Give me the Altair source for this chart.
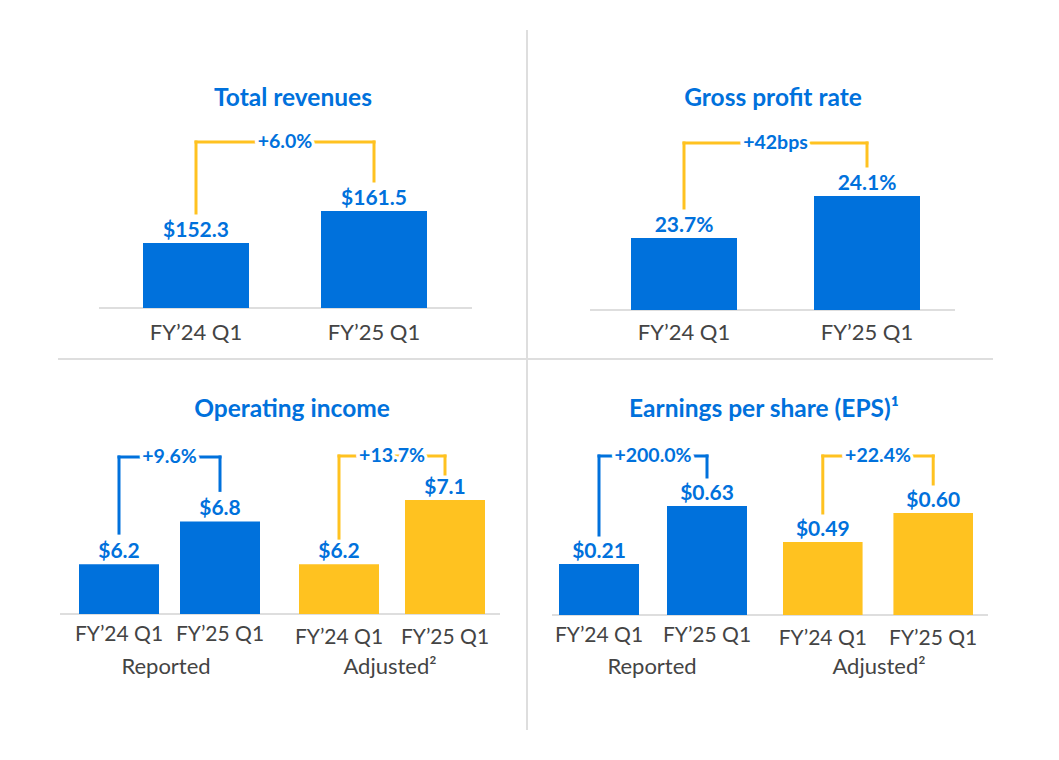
import altair as alt
import pandas as pd

# ---------------- data ----------------
periods = ["FY’24 Q1", "FY’25 Q1"]

revenue = [152.3, 161.5]
revenue_labels = ["$152.3", "$161.5"]

gross_rate = [23.7, 24.1]
gross_labels = ["23.7%", "24.1%"]

opinc_reported = [6.2, 6.8]
opinc_reported_labels = ["$6.2", "$6.8"]
opinc_adjusted = [6.2, 7.1]
opinc_adjusted_labels = ["$6.2", "$7.1"]

eps_reported = [0.21, 0.63]
eps_reported_labels = ["$0.21", "$0.63"]
eps_adjusted = [0.49, 0.60]
eps_adjusted_labels = ["$0.49", "$0.60"]

changes = ["+6.0%", "+42bps", "+9.6%", "+13.7%", "+200.0%", "+22.4%"]
titles = ["Total revenues", "Gross profit rate", "Operating income",
          "Earnings per share (EPS)¹"]
groups = ["Reported", "Adjusted²"]

# ---------------- style ----------------
BLUE = "#0071DC"
YELLOW = "#FFC220"
GRAY_TXT = "#444444"
LINE = "#dedede"
FONT = "Lato"
M = 8  # page margin


def subpanel(values, labels, change, bar_color, br_color, xr, pad_inner,
             ydom, yr, level, gap, label_y, label_size):
    df = pd.DataFrame({"period": periods, "value": values, "label": labels})
    base = alt.Chart(df)
    xscale = alt.Scale(range=[xr[0] - M, xr[1] - M], paddingInner=pad_inner,
                       paddingOuter=0)
    Xbar = alt.X("period:N", sort=periods, axis=None, scale=xscale)
    Xpt = alt.X("period:N", sort=periods, axis=None, scale=xscale,
                bandPosition=0.5)
    Y = alt.Y("value:Q", axis=None, stack=None,
              scale=alt.Scale(domain=ydom, range=[yr[0] - M, yr[1] - M],
                              zero=False, nice=False))
    step = (xr[1] - xr[0]) / (2 - pad_inner)

    bars = base.mark_bar(color=bar_color).encode(
        x=Xbar, y=Y, y2=alt.value(yr[0] - M))
    vals = base.mark_text(font=FONT, fontSize=21, fontWeight="bold",
                          color=BLUE, baseline="alphabetic", dy=-6).encode(
        x=Xpt, y=Y, text="label:N")
    legs = base.mark_rule(color=br_color, strokeWidth=3, yOffset=-gap,
                          strokeCap="square").encode(
        x=Xpt, y=Y, y2=alt.value(level - M))
    hline = base.mark_line(color=br_color, strokeWidth=3,
                           strokeCap="square").encode(
        x=Xpt, y=alt.value(level - M))
    first = base.transform_filter(alt.datum.period == periods[0]).transform_calculate(
        change=alt.expr.if_(True, change, ""))
    halo = first.mark_text(font=FONT, fontSize=19.5, fontWeight="bold",
                           color="white", stroke="white", strokeWidth=7,
                           strokeJoin="round", baseline="middle",
                           dx=step / 2).encode(
        x=Xpt, y=alt.value(level - M), text="change:N")
    chg = first.mark_text(font=FONT, fontSize=19.5, fontWeight="bold",
                          color=BLUE, baseline="middle", dx=step / 2).encode(
        x=Xpt, y=alt.value(level - M), text="change:N")
    xlab = base.mark_text(font=FONT, fontSize=label_size, color=GRAY_TXT,
                          baseline="middle").encode(
        x=Xpt, y=alt.value(label_y - M), text="period:N")
    return alt.layer(bars, legs, hline, halo, chg, vals, xlab)


def hrule(x1, x2, y, color=LINE, width=2):
    return alt.Chart(pd.DataFrame({"k": [0]})).mark_rule(
        color=color, strokeWidth=width).encode(
        x=alt.value(x1 - M), x2=alt.value(x2 - M), y=alt.value(y - M))


def vrule(x, y1, y2, color=LINE, width=2):
    return alt.Chart(pd.DataFrame({"k": [0]})).mark_rule(
        color=color, strokeWidth=width).encode(
        x=alt.value(x - M), y=alt.value(y1 - M), y2=alt.value(y2 - M))


def label(text, x, y, size, bold, color):
    return alt.Chart(pd.DataFrame({"t": [text]})).mark_text(
        font=FONT, fontSize=size, fontWeight="bold" if bold else "normal",
        color=color, align="center", baseline="middle").encode(
        x=alt.value(x - M), y=alt.value(y - M), text="t:N")


layers = [
    vrule(527, 30, 730),
    hrule(58, 993, 359),
    hrule(99, 472, 308),
    hrule(590, 955, 310),
    hrule(60, 500, 614),
    hrule(552, 988, 615),
    label(titles[0], 293, 99, 24.5, True, BLUE),
    label(titles[1], 773, 99, 24.5, True, BLUE),
    label(titles[2], 292, 410, 24.5, True, BLUE),
    label(titles[3], 764, 410, 24.5, True, BLUE),
    label(groups[0], 166, 667, 22, False, GRAY_TXT),
    label(groups[1], 390, 667, 22, False, GRAY_TXT),
    label(groups[0], 652, 667, 22, False, GRAY_TXT),
    label(groups[1], 879, 667, 22, False, GRAY_TXT),
    subpanel(revenue, revenue_labels, changes[0], BLUE, YELLOW,
             (143, 427), 72 / 178, [133.6, 161.5], (308, 211),
             142, 30, 333, 22),
    subpanel(gross_rate, gross_labels, changes[1], BLUE, YELLOW,
             (631, 920), 77 / 183, [23.014, 24.1], (310, 196),
             143, 30, 333, 22),
    subpanel(opinc_reported, opinc_reported_labels, changes[2], BLUE, BLUE,
             (79, 260), 21 / 101, [5.5, 7.1], (614, 500),
             457, 31, 635, 21),
    subpanel(opinc_adjusted, opinc_adjusted_labels, changes[3], YELLOW, YELLOW,
             (299, 485), 26 / 106, [5.5, 7.1], (614, 500),
             456, 26, 638, 21),
    subpanel(eps_reported, eps_reported_labels, changes[4], BLUE, BLUE,
             (559, 747), 28 / 108, [-0.159, 0.63], (615, 506),
             456, 29, 636, 21),
    subpanel(eps_adjusted, eps_adjusted_labels, changes[5], YELLOW, YELLOW,
             (783, 973), 31 / 111, [0.213, 0.60], (615, 513),
             456, 29, 639, 21),
]

chart = alt.layer(*layers).resolve_scale(
    x="independent", y="independent"
).properties(
    width=1043, height=744, padding=0,
    autosize=alt.AutoSizeParams(type="none"),
    background="white",
).configure_view(stroke=None)

chart.save("out.html", embed_options={"renderer": "svg", "actions": False})
